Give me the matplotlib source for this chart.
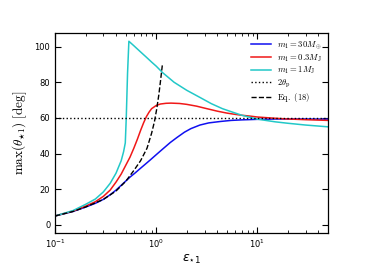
import matplotlib
matplotlib.use("Agg")
import matplotlib.pyplot as plt

# Data
eps_blue = [0.1, 0.15, 0.2, 0.25, 0.3, 0.35, 0.4, 0.45, 0.5, 0.55, 0.62, 0.7, 0.8, 0.875, 1.0, 1.15, 1.375,
            1.6, 1.9, 2.2, 2.7, 3.3, 4.3, 5.5, 7, 10, 15, 20, 30, 50]
val_blue = [5, 7.5, 10, 12.1, 14.3, 16.9, 19.5, 22.2, 24.6, 26.8, 29.2, 31.8, 34.6, 36.5, 39.4, 42.4, 46.2,
            49.0, 52.0, 54.0, 56.0, 57.2, 58.0, 58.6, 58.9, 59.2, 59.4, 59.4, 59.4, 59.3]

eps_red = [0.1, 0.15, 0.2, 0.25, 0.3, 0.35, 0.4, 0.45, 0.5, 0.55, 0.6, 0.65, 0.7, 0.75, 0.8, 0.85, 0.9,
           1.0, 1.1, 1.25, 1.4, 1.7, 2.0, 2.5, 3, 4, 5, 6, 7, 8.5, 10, 15, 20, 30, 50]
val_red = [5, 7.7, 10.5, 13, 16, 19.5, 24, 28.5, 33.5, 38, 43, 48, 53, 57.3, 60.8, 63.3, 65.2,
           67, 67.8, 68.2, 68.3, 68.1, 67.6, 66.6, 65.5, 63.8, 62.7, 62, 61.5, 61, 60.5, 59.8, 59.4, 59.0, 58.6]

eps_cyan = [0.1, 0.15, 0.2, 0.25, 0.3, 0.35, 0.4, 0.45, 0.475, 0.494, 0.505, 0.52, 0.536, 0.6, 0.7,
            0.8, 0.9, 1.0, 1.15, 1.5, 2.0, 2.7, 3.5, 4.5, 5.5, 7, 10, 15, 20, 30, 50]
val_cyan = [5, 8, 11.5, 14.5, 18.5, 23.3, 29, 36, 41, 46, 60, 85, 103, 100.5, 97,
            94, 91.3, 89, 85.5, 80, 75.5, 71.5, 68, 65.2, 63.5, 61.5, 59.3, 57.8, 57, 56, 55]

eps_eq18 = [0.1, 0.15, 0.2, 0.3, 0.4, 0.5, 0.6, 0.7, 0.81, 0.9, 0.96, 1.01, 1.06, 1.1, 1.15]
val_eq18 = [5, 7.5, 10, 14.3, 19, 24.5, 30.5, 36, 43, 51.5, 58, 65, 73, 80.5, 90]

theta_p2 = 60

plt.rcParams['font.family'] = ['DejaVu Sans']
fig = plt.figure(figsize=(3.65, 2.74), dpi=100)
ax = fig.add_axes([0.151, 0.150, 0.748, 0.730])

lw = 1.1
ax.plot(eps_blue, val_blue, color='#1010f0', lw=lw, label=r'$m_1=30M_\oplus$')
ax.plot(eps_red, val_red, color='#f01818', lw=lw, label=r'$m_1=0.3M_{\rm J}$')
ax.plot(eps_cyan, val_cyan, color='#22c8c8', lw=lw, label=r'$m_1=1M_{\rm J}$')
ax.axhline(theta_p2, color='black', ls=':', lw=1.0, label=r'$2\theta_{\rm p}$')
ax.plot(eps_eq18, val_eq18, color='black', ls='--', lw=1.0, label=r'$\mathrm{Eq.\ (18)}$')

ax.set_xscale('log')
ax.set_xlim(0.1, 50)
ax.set_ylim(-4.5, 107.7)
ax.set_yticks([0, 20, 40, 60, 80, 100])
ax.tick_params(which='both', direction='in', top=True, right=True, labelsize=6)
ax.tick_params(which='major', length=4, width=0.8)
ax.tick_params(which='minor', length=2, width=0.6)
for s in ax.spines.values():
    s.set_linewidth(0.9)

ax.set_xlabel(r'$\epsilon_{\star 1}$', fontsize=9, labelpad=2)
ax.set_ylabel(r'$\max(\theta_{\star 1})\ [\mathrm{deg}]$', fontsize=9.5, math_fontfamily='cm')

leg = ax.legend(loc='upper right', frameon=False, fontsize=6.2, handlelength=2.3,
                borderaxespad=0.3, labelspacing=0.15, handletextpad=0.7)
for t in leg.get_texts():
    t.set_math_fontfamily('cm')

fig.savefig('out.png', dpi=100)
